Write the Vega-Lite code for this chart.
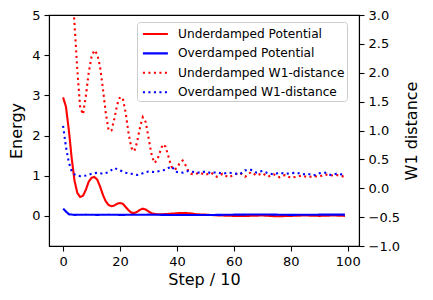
{
  "$schema": "https://vega.github.io/schema/vega-lite/v6.json",
  "width": 310,
  "height": 231,
  "autosize": "none",
  "padding": {"left": 49, "top": 15, "right": 74, "bottom": 54},
  "background": "white",
  "config": {
    "font": "DejaVu Sans",
    "view": {"stroke": "black", "strokeWidth": 1.1},
    "axis": {
      "grid": false,
      "domainColor": "black",
      "domainWidth": 1.1,
      "tickColor": "black",
      "tickWidth": 1.1,
      "tickSize": 5,
      "labelColor": "black",
      "labelFont": "DejaVu Sans",
      "labelFontSize": 13,
      "labelPadding": 4,
      "titleColor": "black",
      "titleFont": "DejaVu Sans",
      "titleFontSize": 16,
      "titleFontWeight": "normal"
    },
    "legend": {
      "orient": "none",
      "legendX": 88,
      "legendY": 7,
      "fillColor": "rgba(255,255,255,0.85)",
      "strokeColor": "#cccccc",
      "cornerRadius": 3,
      "padding": 2,
      "labelFont": "DejaVu Sans",
      "labelFontSize": 12.2,
      "labelColor": "black",
      "labelLimit": 400,
      "labelOffset": 19,
      "symbolType": "M-0.718,0L2.224,0",
      "symbolSize": 289,
      "symbolStrokeWidth": 2.1,
      "rowPadding": 2.4
    }
  },
  "datasets": {
    "pot": [
      {"step": 0, "series": "Underdamped Potential", "value": 2.95},
      {"step": 1, "series": "Underdamped Potential", "value": 2.72},
      {"step": 2, "series": "Underdamped Potential", "value": 2.15},
      {"step": 3, "series": "Underdamped Potential", "value": 1.45},
      {"step": 4, "series": "Underdamped Potential", "value": 0.88},
      {"step": 5, "series": "Underdamped Potential", "value": 0.57},
      {"step": 6, "series": "Underdamped Potential", "value": 0.47},
      {"step": 7, "series": "Underdamped Potential", "value": 0.5},
      {"step": 8, "series": "Underdamped Potential", "value": 0.65},
      {"step": 9, "series": "Underdamped Potential", "value": 0.85},
      {"step": 10, "series": "Underdamped Potential", "value": 0.95},
      {"step": 11, "series": "Underdamped Potential", "value": 0.97},
      {"step": 12, "series": "Underdamped Potential", "value": 0.9},
      {"step": 13, "series": "Underdamped Potential", "value": 0.73},
      {"step": 14, "series": "Underdamped Potential", "value": 0.52},
      {"step": 15, "series": "Underdamped Potential", "value": 0.36},
      {"step": 16, "series": "Underdamped Potential", "value": 0.27},
      {"step": 17, "series": "Underdamped Potential", "value": 0.24},
      {"step": 18, "series": "Underdamped Potential", "value": 0.26},
      {"step": 19, "series": "Underdamped Potential", "value": 0.3},
      {"step": 20, "series": "Underdamped Potential", "value": 0.32},
      {"step": 21, "series": "Underdamped Potential", "value": 0.3},
      {"step": 22, "series": "Underdamped Potential", "value": 0.22},
      {"step": 23, "series": "Underdamped Potential", "value": 0.14},
      {"step": 24, "series": "Underdamped Potential", "value": 0.08},
      {"step": 25, "series": "Underdamped Potential", "value": 0.07},
      {"step": 26, "series": "Underdamped Potential", "value": 0.1},
      {"step": 27, "series": "Underdamped Potential", "value": 0.15},
      {"step": 28, "series": "Underdamped Potential", "value": 0.18},
      {"step": 29, "series": "Underdamped Potential", "value": 0.16},
      {"step": 30, "series": "Underdamped Potential", "value": 0.11},
      {"step": 31, "series": "Underdamped Potential", "value": 0.07},
      {"step": 32, "series": "Underdamped Potential", "value": 0.05},
      {"step": 33, "series": "Underdamped Potential", "value": 0.04},
      {"step": 35, "series": "Underdamped Potential", "value": 0.04},
      {"step": 37, "series": "Underdamped Potential", "value": 0.05},
      {"step": 39, "series": "Underdamped Potential", "value": 0.06},
      {"step": 41, "series": "Underdamped Potential", "value": 0.07},
      {"step": 43, "series": "Underdamped Potential", "value": 0.07},
      {"step": 45, "series": "Underdamped Potential", "value": 0.06},
      {"step": 47, "series": "Underdamped Potential", "value": 0.04},
      {"step": 50, "series": "Underdamped Potential", "value": 0.03},
      {"step": 55, "series": "Underdamped Potential", "value": 0.01},
      {"step": 60, "series": "Underdamped Potential", "value": 0.0},
      {"step": 65, "series": "Underdamped Potential", "value": 0.0},
      {"step": 70, "series": "Underdamped Potential", "value": 0.01},
      {"step": 75, "series": "Underdamped Potential", "value": -0.01},
      {"step": 80, "series": "Underdamped Potential", "value": 0.0},
      {"step": 85, "series": "Underdamped Potential", "value": 0.01},
      {"step": 90, "series": "Underdamped Potential", "value": 0.0},
      {"step": 95, "series": "Underdamped Potential", "value": 0.01},
      {"step": 99, "series": "Underdamped Potential", "value": 0.0},
      {"step": 0, "series": "Overdamped Potential", "value": 0.18},
      {"step": 1, "series": "Overdamped Potential", "value": 0.11},
      {"step": 2, "series": "Overdamped Potential", "value": 0.04},
      {"step": 4, "series": "Overdamped Potential", "value": 0.025},
      {"step": 8, "series": "Overdamped Potential", "value": 0.03},
      {"step": 12, "series": "Overdamped Potential", "value": 0.025},
      {"step": 16, "series": "Overdamped Potential", "value": 0.03},
      {"step": 20, "series": "Overdamped Potential", "value": 0.025},
      {"step": 30, "series": "Overdamped Potential", "value": 0.03},
      {"step": 40, "series": "Overdamped Potential", "value": 0.02},
      {"step": 50, "series": "Overdamped Potential", "value": 0.02},
      {"step": 60, "series": "Overdamped Potential", "value": 0.03},
      {"step": 70, "series": "Overdamped Potential", "value": 0.035},
      {"step": 80, "series": "Overdamped Potential", "value": 0.025},
      {"step": 90, "series": "Overdamped Potential", "value": 0.03},
      {"step": 99, "series": "Overdamped Potential", "value": 0.03}
    ],
    "w1": [
      {"step": 0, "series": "Underdamped W1-distance", "value": 6.0},
      {"step": 1, "series": "Underdamped W1-distance", "value": 5.2},
      {"step": 2, "series": "Underdamped W1-distance", "value": 4.4},
      {"step": 3, "series": "Underdamped W1-distance", "value": 3.6},
      {"step": 4, "series": "Underdamped W1-distance", "value": 2.85},
      {"step": 5, "series": "Underdamped W1-distance", "value": 2.05},
      {"step": 6, "series": "Underdamped W1-distance", "value": 1.4},
      {"step": 7, "series": "Underdamped W1-distance", "value": 1.28},
      {"step": 8, "series": "Underdamped W1-distance", "value": 1.6},
      {"step": 9, "series": "Underdamped W1-distance", "value": 2.0},
      {"step": 10, "series": "Underdamped W1-distance", "value": 2.28},
      {"step": 11, "series": "Underdamped W1-distance", "value": 2.39},
      {"step": 12, "series": "Underdamped W1-distance", "value": 2.32},
      {"step": 13, "series": "Underdamped W1-distance", "value": 2.1},
      {"step": 14, "series": "Underdamped W1-distance", "value": 1.72},
      {"step": 15, "series": "Underdamped W1-distance", "value": 1.3},
      {"step": 16, "series": "Underdamped W1-distance", "value": 1.0},
      {"step": 17, "series": "Underdamped W1-distance", "value": 1.0},
      {"step": 18, "series": "Underdamped W1-distance", "value": 1.2},
      {"step": 19, "series": "Underdamped W1-distance", "value": 1.45},
      {"step": 20, "series": "Underdamped W1-distance", "value": 1.58},
      {"step": 21, "series": "Underdamped W1-distance", "value": 1.55},
      {"step": 22, "series": "Underdamped W1-distance", "value": 1.3},
      {"step": 23, "series": "Underdamped W1-distance", "value": 0.95},
      {"step": 24, "series": "Underdamped W1-distance", "value": 0.7},
      {"step": 25, "series": "Underdamped W1-distance", "value": 0.64},
      {"step": 26, "series": "Underdamped W1-distance", "value": 0.8},
      {"step": 27, "series": "Underdamped W1-distance", "value": 1.05},
      {"step": 28, "series": "Underdamped W1-distance", "value": 1.23},
      {"step": 29, "series": "Underdamped W1-distance", "value": 1.15},
      {"step": 30, "series": "Underdamped W1-distance", "value": 0.88},
      {"step": 31, "series": "Underdamped W1-distance", "value": 0.6},
      {"step": 32, "series": "Underdamped W1-distance", "value": 0.44},
      {"step": 33, "series": "Underdamped W1-distance", "value": 0.48},
      {"step": 34, "series": "Underdamped W1-distance", "value": 0.62},
      {"step": 35, "series": "Underdamped W1-distance", "value": 0.76},
      {"step": 36, "series": "Underdamped W1-distance", "value": 0.72},
      {"step": 37, "series": "Underdamped W1-distance", "value": 0.55},
      {"step": 38, "series": "Underdamped W1-distance", "value": 0.38},
      {"step": 39, "series": "Underdamped W1-distance", "value": 0.32},
      {"step": 40, "series": "Underdamped W1-distance", "value": 0.35},
      {"step": 41, "series": "Underdamped W1-distance", "value": 0.44},
      {"step": 42, "series": "Underdamped W1-distance", "value": 0.48},
      {"step": 43, "series": "Underdamped W1-distance", "value": 0.4},
      {"step": 44, "series": "Underdamped W1-distance", "value": 0.3},
      {"step": 45, "series": "Underdamped W1-distance", "value": 0.25},
      {"step": 46, "series": "Underdamped W1-distance", "value": 0.24},
      {"step": 48, "series": "Underdamped W1-distance", "value": 0.27},
      {"step": 50, "series": "Underdamped W1-distance", "value": 0.23},
      {"step": 52, "series": "Underdamped W1-distance", "value": 0.27},
      {"step": 54, "series": "Underdamped W1-distance", "value": 0.2},
      {"step": 56, "series": "Underdamped W1-distance", "value": 0.25},
      {"step": 58, "series": "Underdamped W1-distance", "value": 0.19},
      {"step": 60, "series": "Underdamped W1-distance", "value": 0.23},
      {"step": 62, "series": "Underdamped W1-distance", "value": 0.27},
      {"step": 64, "series": "Underdamped W1-distance", "value": 0.2},
      {"step": 66, "series": "Underdamped W1-distance", "value": 0.28},
      {"step": 68, "series": "Underdamped W1-distance", "value": 0.22},
      {"step": 70, "series": "Underdamped W1-distance", "value": 0.26},
      {"step": 72, "series": "Underdamped W1-distance", "value": 0.2},
      {"step": 74, "series": "Underdamped W1-distance", "value": 0.24},
      {"step": 76, "series": "Underdamped W1-distance", "value": 0.19},
      {"step": 78, "series": "Underdamped W1-distance", "value": 0.23},
      {"step": 80, "series": "Underdamped W1-distance", "value": 0.18},
      {"step": 82, "series": "Underdamped W1-distance", "value": 0.2},
      {"step": 84, "series": "Underdamped W1-distance", "value": 0.22},
      {"step": 86, "series": "Underdamped W1-distance", "value": 0.19},
      {"step": 88, "series": "Underdamped W1-distance", "value": 0.21},
      {"step": 90, "series": "Underdamped W1-distance", "value": 0.2},
      {"step": 92, "series": "Underdamped W1-distance", "value": 0.24},
      {"step": 94, "series": "Underdamped W1-distance", "value": 0.22},
      {"step": 96, "series": "Underdamped W1-distance", "value": 0.23},
      {"step": 98, "series": "Underdamped W1-distance", "value": 0.21},
      {"step": 99, "series": "Underdamped W1-distance", "value": 0.19},
      {"step": 0, "series": "Overdamped W1-distance", "value": 1.08},
      {"step": 1, "series": "Overdamped W1-distance", "value": 0.72},
      {"step": 2, "series": "Overdamped W1-distance", "value": 0.45},
      {"step": 3, "series": "Overdamped W1-distance", "value": 0.3},
      {"step": 4, "series": "Overdamped W1-distance", "value": 0.24},
      {"step": 5, "series": "Overdamped W1-distance", "value": 0.22},
      {"step": 6, "series": "Overdamped W1-distance", "value": 0.21},
      {"step": 8, "series": "Overdamped W1-distance", "value": 0.22},
      {"step": 10, "series": "Overdamped W1-distance", "value": 0.25},
      {"step": 12, "series": "Overdamped W1-distance", "value": 0.27},
      {"step": 14, "series": "Overdamped W1-distance", "value": 0.25},
      {"step": 16, "series": "Overdamped W1-distance", "value": 0.28},
      {"step": 18, "series": "Overdamped W1-distance", "value": 0.35},
      {"step": 20, "series": "Overdamped W1-distance", "value": 0.31},
      {"step": 22, "series": "Overdamped W1-distance", "value": 0.27},
      {"step": 24, "series": "Overdamped W1-distance", "value": 0.25},
      {"step": 26, "series": "Overdamped W1-distance", "value": 0.23},
      {"step": 28, "series": "Overdamped W1-distance", "value": 0.26},
      {"step": 30, "series": "Overdamped W1-distance", "value": 0.29},
      {"step": 32, "series": "Overdamped W1-distance", "value": 0.28},
      {"step": 34, "series": "Overdamped W1-distance", "value": 0.3},
      {"step": 36, "series": "Overdamped W1-distance", "value": 0.32},
      {"step": 38, "series": "Overdamped W1-distance", "value": 0.38},
      {"step": 40, "series": "Overdamped W1-distance", "value": 0.28},
      {"step": 42, "series": "Overdamped W1-distance", "value": 0.27},
      {"step": 44, "series": "Overdamped W1-distance", "value": 0.3},
      {"step": 46, "series": "Overdamped W1-distance", "value": 0.28},
      {"step": 48, "series": "Overdamped W1-distance", "value": 0.27},
      {"step": 50, "series": "Overdamped W1-distance", "value": 0.29},
      {"step": 52, "series": "Overdamped W1-distance", "value": 0.26},
      {"step": 54, "series": "Overdamped W1-distance", "value": 0.28},
      {"step": 56, "series": "Overdamped W1-distance", "value": 0.25},
      {"step": 58, "series": "Overdamped W1-distance", "value": 0.27},
      {"step": 60, "series": "Overdamped W1-distance", "value": 0.26},
      {"step": 62, "series": "Overdamped W1-distance", "value": 0.24},
      {"step": 64, "series": "Overdamped W1-distance", "value": 0.31},
      {"step": 66, "series": "Overdamped W1-distance", "value": 0.32},
      {"step": 68, "series": "Overdamped W1-distance", "value": 0.27},
      {"step": 70, "series": "Overdamped W1-distance", "value": 0.3},
      {"step": 72, "series": "Overdamped W1-distance", "value": 0.26},
      {"step": 74, "series": "Overdamped W1-distance", "value": 0.24},
      {"step": 76, "series": "Overdamped W1-distance", "value": 0.27},
      {"step": 78, "series": "Overdamped W1-distance", "value": 0.25},
      {"step": 80, "series": "Overdamped W1-distance", "value": 0.26},
      {"step": 82, "series": "Overdamped W1-distance", "value": 0.27},
      {"step": 84, "series": "Overdamped W1-distance", "value": 0.24},
      {"step": 86, "series": "Overdamped W1-distance", "value": 0.25},
      {"step": 88, "series": "Overdamped W1-distance", "value": 0.22},
      {"step": 90, "series": "Overdamped W1-distance", "value": 0.26},
      {"step": 92, "series": "Overdamped W1-distance", "value": 0.27},
      {"step": 94, "series": "Overdamped W1-distance", "value": 0.23},
      {"step": 96, "series": "Overdamped W1-distance", "value": 0.25},
      {"step": 98, "series": "Overdamped W1-distance", "value": 0.24},
      {"step": 99, "series": "Overdamped W1-distance", "value": 0.25}
    ]
  },
  "layer": [
    {
      "data": {"name": "pot"},
      "mark": {"type": "line", "strokeWidth": 2.1, "clip": true},
      "encoding": {
        "x": {
          "field": "step", "type": "quantitative",
          "scale": {"domain": [-4.95, 103.95], "nice": false, "zero": false},
          "axis": {"title": "Step / 10", "values": [0, 20, 40, 60, 80, 100], "titlePadding": 3}
        },
        "y": {
          "field": "value", "type": "quantitative",
          "scale": {"domain": [-0.75, 5], "nice": false, "zero": false},
          "axis": {"title": "Energy", "orient": "left", "values": [0, 1, 2, 3, 4, 5], "titlePadding": 7}
        },
        "color": {
          "field": "series", "type": "nominal",
          "scale": {
            "domain": ["Underdamped Potential", "Overdamped Potential", "Underdamped W1-distance", "Overdamped W1-distance"],
            "range": ["#ff0000", "#0000ff", "#ff0000", "#0000ff"]
          },
          "legend": {"title": null}
        },
        "strokeDash": {
          "field": "series", "type": "nominal",
          "scale": {
            "domain": ["Underdamped Potential", "Overdamped Potential", "Underdamped W1-distance", "Overdamped W1-distance"],
            "range": [[1, 0], [1, 0], [2.1, 3.4], [2.1, 3.4]]
          },
          "legend": {"title": null}
        }
      }
    },
    {
      "data": {"name": "w1"},
      "mark": {"type": "line", "strokeWidth": 2.1, "clip": true},
      "encoding": {
        "x": {"field": "step", "type": "quantitative"},
        "y": {
          "field": "value", "type": "quantitative",
          "scale": {"domain": [-1, 3], "nice": false, "zero": false},
          "axis": {"title": "W1 distance", "orient": "right", "values": [-1, -0.5, 0, 0.5, 1, 1.5, 2, 2.5, 3], "labelExpr": "replace(format(datum.value, '.1f'), '-', '\u2212')", "titleAngle": 270, "titlePadding": 20}
        },
        "color": {"field": "series", "type": "nominal"},
        "strokeDash": {"field": "series", "type": "nominal"}
      }
    }
  ],
  "resolve": {"scale": {"y": "independent"}}
}
